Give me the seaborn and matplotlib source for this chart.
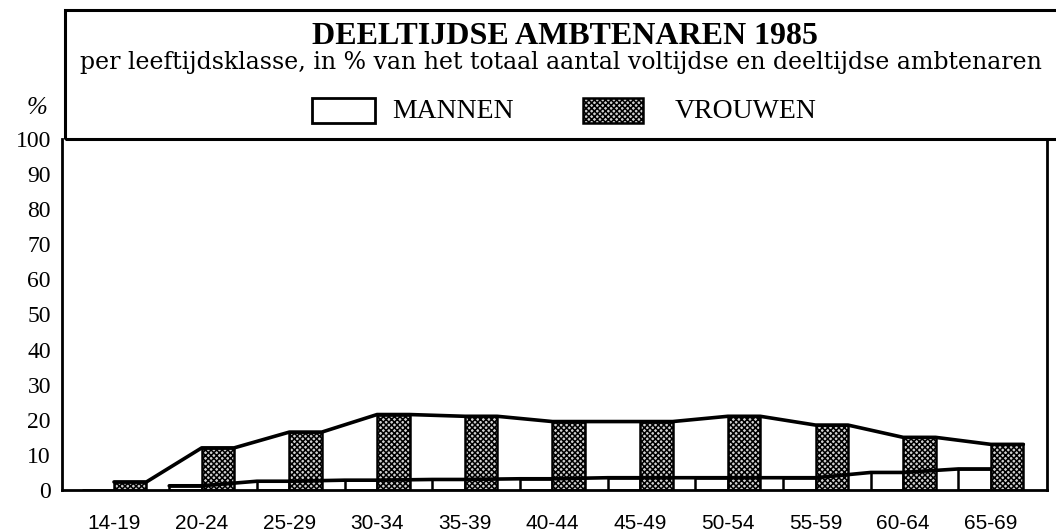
import matplotlib
matplotlib.use("Agg")
import matplotlib.pyplot as plt
import matplotlib.patches as mpatches
import numpy as np
import pandas as pd
import seaborn as sns

# ---------------- data ----------------
age_groups = ["14-19", "20-24", "25-29", "30-34", "35-39", "40-44",
              "45-49", "50-54", "55-59", "60-64", "65-69"]
mannen = [0.0, 1.2, 2.5, 2.8, 3.0, 3.2, 3.5, 3.5, 3.5, 5.0, 6.0]
vrouwen = [2.3, 12.0, 16.5, 21.5, 21.0, 19.5, 19.5, 21.0, 18.5, 15.0, 13.0]
series = ["MANNEN", "VROUWEN"]
y_ticks = [0, 10, 20, 30, 40, 50, 60, 70, 80, 90, 100]

df = pd.DataFrame({
    "leeftijd": age_groups * 2,
    "pct": mannen + vrouwen,
    "geslacht": [series[0]] * len(age_groups) + [series[1]] * len(age_groups),
})

sns.set_style("white")
plt.rcParams["hatch.linewidth"] = 1.1
for k in ["text.color", "axes.labelcolor", "xtick.color", "ytick.color"]:
    plt.rcParams[k] = "black"
serif = ["Liberation Serif", "DejaVu Serif"]
HATCH = "xxxxxx"

fig = plt.figure(figsize=(10.56, 5.32), dpi=100)
ax = fig.add_axes([62 / 1056, 42 / 532, (1047 - 62) / 1056, (490 - 139) / 532])

sns.barplot(data=df, x="leeftijd", y="pct", hue="geslacht", ax=ax,
            palette=["white", "#d0d0d0"], width=0.74, gap=0,
            edgecolor="black", linewidth=1.8, legend=False, errorbar=None)

# hatched pattern for the women
for p in ax.containers[1]:
    p.set_hatch(HATCH)
    p.set_edgecolor("black")

# lines running over the bar tops
def top_line(container, skip_first=False):
    xs, ys = [], []
    for i, p in enumerate(container):
        if skip_first and i == 0:
            continue
        x0 = p.get_x()
        xs += [x0, x0 + p.get_width()]
        ys += [p.get_height(), p.get_height()]
    return xs, ys

xm, ym = top_line(ax.containers[0], skip_first=True)
xv, yv = top_line(ax.containers[1])
ax.plot(xm, ym, color="black", lw=2.6, zorder=5)
ax.plot(xv, yv, color="black", lw=2.6, zorder=5)

ax.set_xlim(-0.593, 10.64)
ax.set_ylim(0, 100)
ax.set_yticks(y_ticks)
ax.set_yticklabels([str(t) for t in y_ticks], fontfamily=serif, fontsize=17)
ax.tick_params(axis="both", length=0)
ax.tick_params(axis="y", pad=8)
ax.tick_params(axis="x", pad=17)
for lab in ax.get_xticklabels():
    lab.set_fontfamily("Liberation Sans")
    lab.set_fontsize(15)
ax.set_xlabel("")
ax.set_ylabel("")
for side in ["left", "bottom", "right"]:
    ax.spines[side].set_visible(True)
    ax.spines[side].set_color("black")
    ax.spines[side].set_linewidth(2.0)
ax.spines["top"].set_visible(False)

# ---------------- title box ----------------
fig.patches.append(mpatches.Rectangle((65 / 1056, (532 - 139) / 532),
                                      1.1, (139 - 10) / 532,
                                      transform=fig.transFigure, fill=False,
                                      edgecolor="black", linewidth=2.2))
fig.text(565 / 1056, 1 - 36 / 532, "DEELTIJDSE AMBTENAREN 1985",
         ha="center", va="center", fontfamily=serif, fontweight="bold",
         fontsize=23)
fig.text(561 / 1056, 1 - 63 / 532,
         "per leeftijdsklasse, in % van het totaal aantal voltijdse en deeltijdse ambtenaren",
         ha="center", va="center", fontfamily=["DejaVu Serif"], fontsize=17)
fig.text(128 / 1056, 1 - 2 / 532, "Grafiek 9", ha="center", va="bottom",
         fontfamily=serif, fontweight="bold", fontsize=16)

# legend keys
fig.patches.append(mpatches.Rectangle((312 / 1056, 1 - 123 / 532), 63 / 1056, 25 / 532,
                                      transform=fig.transFigure, facecolor="white",
                                      edgecolor="black", linewidth=2.0))
fig.patches.append(mpatches.Rectangle((583 / 1056, 1 - 123 / 532), 60 / 1056, 25 / 532,
                                      transform=fig.transFigure, facecolor="#d0d0d0",
                                      edgecolor="black", linewidth=1.8, hatch=HATCH))
fig.text(392 / 1056, 1 - 111 / 532, series[0], ha="left", va="center",
         fontfamily=serif, fontsize=20)
fig.text(675 / 1056, 1 - 111 / 532, series[1], ha="left", va="center",
         fontfamily=serif, fontsize=20)

fig.text(37 / 1056, 1 - 108 / 532, "%", ha="center", va="center",
         fontfamily=serif, fontstyle="italic", fontsize=18)

fig.savefig("out.png", dpi=100)
